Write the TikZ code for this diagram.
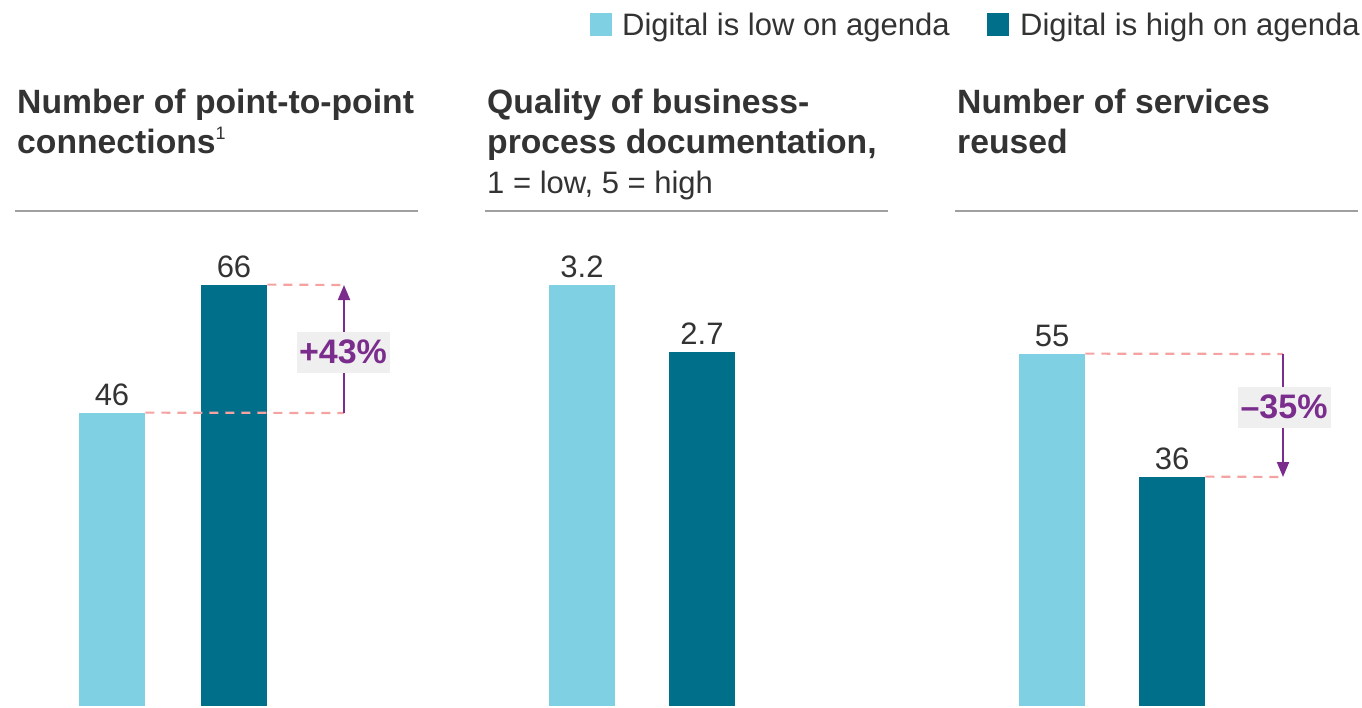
\documentclass[tikz,border=0pt]{standalone}
\usepackage{fontspec}
\setmainfont{Liberation Sans}
\usetikzlibrary{arrows.meta}
\definecolor{lightbar}{HTML}{7FD0E2}
\definecolor{darkbar}{HTML}{00708A}
\definecolor{dashpink}{HTML}{F4A2A2}
\definecolor{purp}{HTML}{7B2D8E}
\definecolor{boxgray}{HTML}{EFEFEF}
\definecolor{rulegray}{HTML}{A0A0A0}
\definecolor{txt}{HTML}{333333}
\begin{document}
\begin{tikzpicture}[x=1pt,y=-1pt,
  lbl/.style={font=\fontsize{31}{37}\selectfont, text=txt, inner sep=0pt},
  ttl/.style={font=\fontsize{33.7}{40}\selectfont\bfseries, text=txt, inner sep=0pt, anchor=base west},
  sub/.style={font=\fontsize{31}{37}\selectfont, text=txt, inner sep=0pt, anchor=base west},
  bar/.style={draw=none, inner sep=0pt, minimum width=66pt, anchor=south west},
  guide/.style={draw=dashpink, line width=2.2pt, dash pattern=on 9pt off 7pt},
  change/.style={draw=purp, line width=2pt, -{Triangle[length=15pt,width=12pt]}},
  pct/.style={fill=boxgray, text=purp, font=\fontsize{34}{38}\selectfont\bfseries, inner sep=0pt, minimum width=93pt, minimum height=41pt},
  hrule/.style={draw=rulegray, line width=1.5pt},
  legsq/.style={inner sep=0pt, minimum width=22pt, minimum height=23pt, anchor=north west}
]
\useasboundingbox (0,0) rectangle (1362,707);

% legend
\node[legsq, fill=lightbar] (leg1) at (590,13) {};
\node[lbl, anchor=base west] (leg1t) at (622,35) {Digital is low on agenda};
\node[legsq, fill=darkbar] (leg2) at (987,13) {};
\node[lbl, anchor=base west] (leg2t) at (1020,35) {Digital is high on agenda};

% titles
\node[ttl] (t1a) at (17,113) {Number of point-to-point};
\node[ttl] (t1b) at (17,153) {connections{\fontsize{18}{18}\selectfont\mdseries\raisebox{14pt}{1}}};
\node[ttl] (t2a) at (487,113) {Quality of business-};
\node[ttl] (t2b) at (487,153) {process documentation,};
\node[sub] (t2c) at (487,193) {1 = low, 5 = high};
\node[ttl] (t3a) at (957,113) {Number of services};
\node[ttl] (t3b) at (957,153) {reused};

% header rules
\draw[hrule] (15,211) -- (418,211);
\draw[hrule] (485,211) -- (888,211);
\draw[hrule] (955,211) -- (1358,211);

% bars
\node[bar, fill=lightbar, minimum height=293pt] (b1l) at (79,706) {};
\node[bar, fill=darkbar,  minimum height=421pt] (b1d) at (201,706) {};
\node[bar, fill=lightbar, minimum height=421pt] (b2l) at (549,706) {};
\node[bar, fill=darkbar,  minimum height=354pt] (b2d) at (669,706) {};
\node[bar, fill=lightbar, minimum height=352pt] (b3l) at (1019,706) {};
\node[bar, fill=darkbar,  minimum height=229pt] (b3d) at (1139,706) {};

% value labels
\node[lbl, anchor=base] (v1l) at (112,405) {46};
\node[lbl, anchor=base] (v1d) at (234,277) {66};
\node[lbl, anchor=base] (v2l) at (582,277) {3.2};
\node[lbl, anchor=base] (v2d) at (702,344) {2.7};
\node[lbl, anchor=base] (v3l) at (1052,346) {55};
\node[lbl, anchor=base] (v3d) at (1172,469) {36};

% change indicator 1
\coordinate (a1b) at (344,413);
\coordinate (a1t) at (344,285);
\draw[guide] (b1l.north east) -- (a1b);
\draw[guide] (b1d.north east) -- (a1t);
\draw[change] (a1b) -- (a1t);
\node[pct] (p1) at (343,352) {+43\%};

% change indicator 3
\coordinate (a3t) at (1283,354);
\coordinate (a3b) at (1283,477);
\draw[guide] (b3l.north east) -- (a3t);
\draw[guide] (b3d.north east) -- (a3b);
\draw[change] (a3t) -- (a3b);
\node[pct] (p3) at (1284,407) {–35\%};
\end{tikzpicture}
\end{document}
